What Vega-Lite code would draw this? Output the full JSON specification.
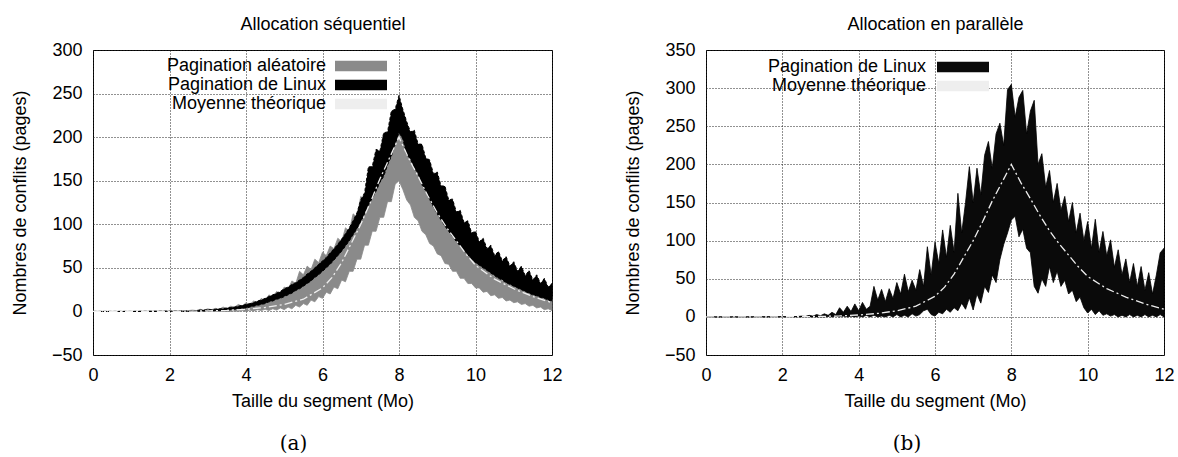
{
"$schema": "https://vega.github.io/schema/vega-lite/v6.json",
"background": "white",
"padding": {"left": 10, "top": 14, "right": 5, "bottom": 5},
"bounds": "flush",
"spacing": 154,
"resolve": {"scale": {"color": "independent"}, "legend": {"color": "independent"}},
"config": {
  "font": "Liberation Sans",
  "view": {"stroke": "#000", "strokeWidth": 1},
  "axis": {"labelFont": "Liberation Sans", "labelFontSize": 18, "labelColor": "#000", "titleFont": "Liberation Sans", "titleFontSize": 18, "titleFontWeight": "normal", "titleColor": "#000", "domain": false, "ticks": false, "tickSize": 0, "gridColor": "#222", "gridDash": [1, 2], "gridWidth": 1, "gridOpacity": 1, "labelOverlap": false, "labelFlush": false, "labelBound": false},
  "legend": {"labelFont": "Liberation Sans", "labelFontSize": 18, "labelColor": "#000", "labelLimit": 400},
  "title": {"font": "DejaVu Serif", "fontSize": 20, "fontWeight": "normal", "color": "#000"}
},
"datasets": {
  "seqA": [
    {"x":0,"lo":0,"hi":0},{"x":1,"lo":0,"hi":0},{"x":2,"lo":0,"hi":0.5},
    {"x":2.5,"lo":0,"hi":1},{"x":2.6,"lo":0,"hi":1.5},{"x":2.7,"lo":0,"hi":1},{"x":2.8,"lo":0,"hi":2.5},{"x":2.9,"lo":0,"hi":1.5},
    {"x":3.0,"lo":0,"hi":3},{"x":3.1,"lo":0,"hi":2},{"x":3.2,"lo":0,"hi":3.5},{"x":3.3,"lo":0,"hi":2.5},{"x":3.4,"lo":0,"hi":5},
    {"x":3.5,"lo":0,"hi":3.5},{"x":3.6,"lo":0,"hi":6},{"x":3.7,"lo":0.5,"hi":5},{"x":3.8,"lo":0,"hi":8},{"x":3.9,"lo":1,"hi":6},
    {"x":4.0,"lo":0,"hi":10},{"x":4.1,"lo":1.5,"hi":8},{"x":4.2,"lo":0.5,"hi":12},{"x":4.3,"lo":2,"hi":10},{"x":4.4,"lo":1,"hi":15},
    {"x":4.5,"lo":2.5,"hi":12},{"x":4.6,"lo":1,"hi":19},{"x":4.7,"lo":3,"hi":16},{"x":4.8,"lo":1.5,"hi":23},{"x":4.9,"lo":4,"hi":20},
    {"x":5.0,"lo":2,"hi":28},{"x":5.1,"lo":5,"hi":25},{"x":5.2,"lo":3,"hi":35},{"x":5.3,"lo":7,"hi":32},{"x":5.4,"lo":5,"hi":46},
    {"x":5.5,"lo":9,"hi":42},{"x":5.6,"lo":7,"hi":52},{"x":5.7,"lo":13,"hi":48},{"x":5.8,"lo":11,"hi":60},{"x":5.9,"lo":17,"hi":56},
    {"x":6.0,"lo":15,"hi":68},{"x":6.1,"lo":22,"hi":64},{"x":6.2,"lo":20,"hi":75},{"x":6.3,"lo":28,"hi":72},{"x":6.4,"lo":26,"hi":84},
    {"x":6.5,"lo":36,"hi":80},{"x":6.6,"lo":34,"hi":96},{"x":6.7,"lo":46,"hi":92},{"x":6.8,"lo":46,"hi":112},{"x":6.9,"lo":60,"hi":108},
    {"x":7.0,"lo":60,"hi":132},{"x":7.1,"lo":76,"hi":128},{"x":7.2,"lo":76,"hi":146},{"x":7.3,"lo":92,"hi":142},{"x":7.4,"lo":92,"hi":162},
    {"x":7.5,"lo":108,"hi":158},{"x":7.6,"lo":108,"hi":180},{"x":7.7,"lo":126,"hi":176},{"x":7.8,"lo":126,"hi":198},{"x":7.9,"lo":146,"hi":194},
    {"x":8.0,"lo":150,"hi":214},{"x":8.1,"lo":140,"hi":200},{"x":8.2,"lo":128,"hi":196},{"x":8.3,"lo":122,"hi":180},{"x":8.4,"lo":108,"hi":174},
    {"x":8.5,"lo":104,"hi":160},{"x":8.6,"lo":92,"hi":154},{"x":8.7,"lo":88,"hi":142},{"x":8.8,"lo":78,"hi":138},{"x":8.9,"lo":75,"hi":126},
    {"x":9.0,"lo":66,"hi":124},{"x":9.1,"lo":64,"hi":112},{"x":9.2,"lo":55,"hi":110},{"x":9.3,"lo":54,"hi":100},{"x":9.4,"lo":46,"hi":96},
    {"x":9.5,"lo":46,"hi":88},{"x":9.6,"lo":38,"hi":84},{"x":9.7,"lo":38,"hi":76},{"x":9.8,"lo":32,"hi":72},{"x":9.9,"lo":32,"hi":64},
    {"x":10.0,"lo":27,"hi":60},{"x":10.1,"lo":27,"hi":54},{"x":10.2,"lo":22,"hi":52},{"x":10.3,"lo":23,"hi":46},{"x":10.4,"lo":18,"hi":45},
    {"x":10.5,"lo":19,"hi":40},{"x":10.6,"lo":15,"hi":39},{"x":10.7,"lo":16,"hi":35},{"x":10.8,"lo":12,"hi":34},{"x":10.9,"lo":13,"hi":30},
    {"x":11.0,"lo":10,"hi":30},{"x":11.1,"lo":11,"hi":27},{"x":11.2,"lo":8,"hi":27},{"x":11.3,"lo":9,"hi":24},{"x":11.4,"lo":6,"hi":24},
    {"x":11.5,"lo":7,"hi":21},{"x":11.6,"lo":4,"hi":21},{"x":11.7,"lo":5,"hi":19},{"x":11.8,"lo":2,"hi":19},{"x":11.9,"lo":3,"hi":17},
    {"x":12.0,"lo":1,"hi":17}
  ],
  "seqL": [
    {"x":0,"lo":0,"hi":0},{"x":1,"lo":0,"hi":0},{"x":2,"lo":0,"hi":0.3},
    {"x":2.5,"lo":0,"hi":0.5},{"x":2.6,"lo":0,"hi":1},{"x":2.7,"lo":0.3,"hi":1},{"x":2.8,"lo":0.3,"hi":1.5},{"x":2.9,"lo":0.5,"hi":1.5},
    {"x":3.0,"lo":0.5,"hi":2},{"x":3.1,"lo":0.8,"hi":2},{"x":3.2,"lo":1,"hi":2.5},{"x":3.3,"lo":1,"hi":3},{"x":3.4,"lo":1.5,"hi":3},
    {"x":3.5,"lo":1.5,"hi":4},{"x":3.6,"lo":2,"hi":4.5},{"x":3.7,"lo":2.5,"hi":5},{"x":3.8,"lo":3,"hi":6},{"x":3.9,"lo":3.5,"hi":7},
    {"x":4.0,"lo":4,"hi":8},{"x":4.1,"lo":5,"hi":9},{"x":4.2,"lo":6,"hi":10},{"x":4.3,"lo":7,"hi":12},{"x":4.4,"lo":8,"hi":13},
    {"x":4.5,"lo":9,"hi":15},{"x":4.6,"lo":11,"hi":17},{"x":4.7,"lo":12,"hi":19},{"x":4.8,"lo":14,"hi":21},{"x":4.9,"lo":15,"hi":23},
    {"x":5.0,"lo":17,"hi":26},{"x":5.1,"lo":19,"hi":28},{"x":5.2,"lo":21,"hi":31},{"x":5.3,"lo":24,"hi":33},{"x":5.4,"lo":26,"hi":36},
    {"x":5.5,"lo":29,"hi":39},{"x":5.6,"lo":32,"hi":43},{"x":5.7,"lo":35,"hi":46},{"x":5.8,"lo":39,"hi":50},{"x":5.9,"lo":42,"hi":54},
    {"x":6.0,"lo":46,"hi":58},{"x":6.1,"lo":50,"hi":62},{"x":6.2,"lo":54,"hi":67},{"x":6.3,"lo":59,"hi":72},{"x":6.4,"lo":64,"hi":77},
    {"x":6.5,"lo":69,"hi":83},{"x":6.6,"lo":75,"hi":89},{"x":6.7,"lo":81,"hi":96},{"x":6.8,"lo":88,"hi":104},{"x":6.9,"lo":95,"hi":113},
    {"x":7.0,"lo":103,"hi":128},{"x":7.1,"lo":112,"hi":136},{"x":7.2,"lo":122,"hi":166},{"x":7.3,"lo":130,"hi":166},{"x":7.4,"lo":138,"hi":186},
    {"x":7.5,"lo":148,"hi":184},{"x":7.6,"lo":155,"hi":205},{"x":7.7,"lo":168,"hi":206},{"x":7.8,"lo":178,"hi":230},{"x":7.9,"lo":192,"hi":232},
    {"x":8.0,"lo":205,"hi":248},{"x":8.1,"lo":198,"hi":232},{"x":8.2,"lo":180,"hi":218},{"x":8.3,"lo":175,"hi":206},{"x":8.4,"lo":165,"hi":208},
    {"x":8.5,"lo":158,"hi":192},{"x":8.6,"lo":145,"hi":192},{"x":8.7,"lo":138,"hi":176},{"x":8.8,"lo":128,"hi":174},{"x":8.9,"lo":120,"hi":158},
    {"x":9.0,"lo":112,"hi":160},{"x":9.1,"lo":105,"hi":144},{"x":9.2,"lo":98,"hi":144},{"x":9.3,"lo":92,"hi":128},{"x":9.4,"lo":86,"hi":129},
    {"x":9.5,"lo":80,"hi":114},{"x":9.6,"lo":75,"hi":116},{"x":9.7,"lo":70,"hi":102},{"x":9.8,"lo":65,"hi":104},{"x":9.9,"lo":60,"hi":90},
    {"x":10.0,"lo":56,"hi":92},{"x":10.1,"lo":53,"hi":80},{"x":10.2,"lo":50,"hi":84},{"x":10.3,"lo":47,"hi":72},{"x":10.4,"lo":44,"hi":76},
    {"x":10.5,"lo":41,"hi":64},{"x":10.6,"lo":38,"hi":69},{"x":10.7,"lo":36,"hi":58},{"x":10.8,"lo":33,"hi":63},{"x":10.9,"lo":31,"hi":52},
    {"x":11.0,"lo":29,"hi":57},{"x":11.1,"lo":27,"hi":46},{"x":11.2,"lo":25,"hi":52},{"x":11.3,"lo":23,"hi":41},{"x":11.4,"lo":21,"hi":47},
    {"x":11.5,"lo":19,"hi":36},{"x":11.6,"lo":18,"hi":42},{"x":11.7,"lo":16,"hi":32},{"x":11.8,"lo":15,"hi":38},{"x":11.9,"lo":13,"hi":28},
    {"x":12.0,"lo":12,"hi":32}
  ],
  "par": [
    {"x":0,"lo":0,"hi":0},{"x":1,"lo":0,"hi":0},{"x":2,"lo":0,"hi":0.3},{"x":2.4,"lo":0,"hi":0.5},
    {"x":2.5,"lo":0,"hi":1},{"x":2.6,"lo":0,"hi":0.5},{"x":2.7,"lo":0,"hi":2},{"x":2.8,"lo":0,"hi":1},{"x":2.9,"lo":0,"hi":3},
    {"x":3.0,"lo":0,"hi":1.5},{"x":3.1,"lo":0,"hi":4},{"x":3.2,"lo":0.5,"hi":2},{"x":3.3,"lo":0,"hi":6},{"x":3.4,"lo":1,"hi":3},
    {"x":3.5,"lo":0,"hi":12},{"x":3.6,"lo":1,"hi":6},{"x":3.7,"lo":0,"hi":14},{"x":3.8,"lo":1,"hi":7},{"x":3.9,"lo":0,"hi":17},
    {"x":4.0,"lo":1,"hi":8},{"x":4.1,"lo":0,"hi":19},{"x":4.2,"lo":2,"hi":10},{"x":4.3,"lo":0,"hi":14},{"x":4.4,"lo":2,"hi":40},
    {"x":4.5,"lo":0,"hi":22},{"x":4.6,"lo":1,"hi":36},{"x":4.7,"lo":0,"hi":20},{"x":4.8,"lo":2,"hi":37},{"x":4.9,"lo":0,"hi":24},
    {"x":5.0,"lo":3,"hi":45},{"x":5.1,"lo":0,"hi":30},{"x":5.2,"lo":2,"hi":56},{"x":5.3,"lo":0,"hi":33},{"x":5.4,"lo":4,"hi":48},
    {"x":5.5,"lo":1,"hi":35},{"x":5.6,"lo":3,"hi":62},{"x":5.7,"lo":8,"hi":40},{"x":5.8,"lo":10,"hi":92},{"x":5.9,"lo":3,"hi":55},
    {"x":6.0,"lo":1,"hi":98},{"x":6.1,"lo":6,"hi":70},{"x":6.2,"lo":4,"hi":114},{"x":6.3,"lo":10,"hi":78},{"x":6.4,"lo":6,"hi":120},
    {"x":6.5,"lo":12,"hi":85},{"x":6.6,"lo":8,"hi":162},{"x":6.7,"lo":18,"hi":110},{"x":6.8,"lo":10,"hi":150},{"x":6.9,"lo":25,"hi":197},
    {"x":7.0,"lo":9,"hi":150},{"x":7.1,"lo":30,"hi":195},{"x":7.2,"lo":18,"hi":160},{"x":7.3,"lo":40,"hi":212},{"x":7.4,"lo":32,"hi":230},
    {"x":7.5,"lo":55,"hi":195},{"x":7.6,"lo":45,"hi":240},{"x":7.7,"lo":75,"hi":254},{"x":7.8,"lo":95,"hi":225},{"x":7.9,"lo":110,"hi":298},
    {"x":8.0,"lo":127,"hi":305},{"x":8.1,"lo":132,"hi":262},{"x":8.2,"lo":105,"hi":288},{"x":8.3,"lo":115,"hi":297},{"x":8.4,"lo":90,"hi":240},
    {"x":8.5,"lo":84,"hi":270},{"x":8.6,"lo":40,"hi":284},{"x":8.7,"lo":31,"hi":200},{"x":8.8,"lo":50,"hi":214},{"x":8.9,"lo":40,"hi":170},
    {"x":9.0,"lo":66,"hi":192},{"x":9.1,"lo":45,"hi":150},{"x":9.2,"lo":60,"hi":175},{"x":9.3,"lo":40,"hi":140},{"x":9.4,"lo":48,"hi":158},
    {"x":9.5,"lo":30,"hi":125},{"x":9.6,"lo":35,"hi":150},{"x":9.7,"lo":20,"hi":110},{"x":9.8,"lo":26,"hi":136},{"x":9.9,"lo":12,"hi":100},
    {"x":10.0,"lo":5,"hi":125},{"x":10.1,"lo":10,"hi":90},{"x":10.2,"lo":3,"hi":128},{"x":10.3,"lo":8,"hi":85},{"x":10.4,"lo":2,"hi":112},
    {"x":10.5,"lo":4,"hi":80},{"x":10.6,"lo":1,"hi":101},{"x":10.7,"lo":3,"hi":65},{"x":10.8,"lo":0,"hi":88},{"x":10.9,"lo":2,"hi":55},
    {"x":11.0,"lo":0,"hi":76},{"x":11.1,"lo":3,"hi":45},{"x":11.2,"lo":0,"hi":70},{"x":11.3,"lo":2,"hi":40},{"x":11.4,"lo":0,"hi":66},
    {"x":11.5,"lo":3,"hi":35},{"x":11.6,"lo":0,"hi":58},{"x":11.7,"lo":2,"hi":30},{"x":11.8,"lo":0,"hi":55},{"x":11.9,"lo":3,"hi":84},
    {"x":12.0,"lo":0,"hi":90}
  ],
  "theo": [
    {"x":0,"y":0},{"x":1,"y":0},{"x":2,"y":0.1},{"x":2.5,"y":0.3},{"x":3,"y":0.6},{"x":3.5,"y":1.2},{"x":4,"y":2.5},{"x":4.5,"y":4.5},
    {"x":5,"y":8},{"x":5.5,"y":14},{"x":6,"y":27},{"x":6.25,"y":39},{"x":6.5,"y":56},{"x":6.75,"y":78},{"x":7,"y":100},{"x":7.25,"y":125},
    {"x":7.5,"y":152},{"x":7.75,"y":176},{"x":8,"y":200},{"x":8.25,"y":176},{"x":8.5,"y":155},{"x":8.75,"y":133},{"x":9,"y":113},
    {"x":9.25,"y":96},{"x":9.5,"y":81},{"x":9.75,"y":66},{"x":10,"y":53},{"x":10.5,"y":37},{"x":11,"y":26},{"x":11.5,"y":17},{"x":12,"y":10}
  ]
},
"hconcat": [
  {
    "width": 459, "height": 305,
    "title": {"text": "(a)", "orient": "bottom", "frame": "group", "anchor": "middle", "dx": -29, "offset": 24},
    "resolve": {"axis": {"x": "independent"}},
    "layer": [
      {
        "data": {"name": "seqA"},
        "mark": {"type": "area", "stroke": "#8a8a8a", "strokeWidth": 0.8},
        "encoding": {
          "x": {"field": "x", "type": "quantitative", "scale": {"domain": [0, 12], "nice": false},
                "axis": {"orient": "bottom", "values": [0, 2, 4, 6, 8, 10, 12], "format": "d", "title": "Taille du segment (Mo)", "labelPadding": 11, "titlePadding": 8, "labelOverlap": false}},
          "y": {"field": "lo", "type": "quantitative", "scale": {"domain": [-50, 300], "nice": false},
                "axis": {"values": [-50, 0, 50, 100, 150, 200, 250, 300], "tickCount": 20, "format": "d", "title": "Nombres de conflits (pages)", "labelPadding": 11, "titlePadding": 22, "labelOverlap": false}},
          "y2": {"field": "hi"},
          "color": {"datum": "Pagination aléatoire", "type": "nominal",
            "scale": {"domain": ["Pagination aléatoire", "Pagination de Linux", "Moyenne théorique"], "range": ["#8a8a8a", "#000000", "#eeeeee"]},
            "legend": {"orient": "none", "legendX": 259, "legendY": 7, "title": null, "padding": 0, "labelAlign": "right", "labelOffset": -44, "symbolSize": 169, "rowPadding": 1, "symbolType": "M-4,-0.8H4V0.8H-4Z", "symbolStrokeWidth": 0, "symbolOpacity": 1}
          }
        }
      },
      {
        "data": {"name": "seqL"},
        "mark": {"type": "area", "stroke": "#000", "strokeWidth": 1, "strokeDash": [3, 2]},
        "encoding": {
          "x": {"field": "x", "type": "quantitative", "axis": null},
          "y": {"field": "lo", "type": "quantitative"},
          "y2": {"field": "hi"},
          "color": {"datum": "Pagination de Linux", "type": "nominal"}
        }
      },
      {
        "data": {"name": "theo"},
        "mark": {"type": "line", "strokeWidth": 1.3, "strokeDash": [8, 3, 2, 3]},
        "encoding": {
          "x": {"field": "x", "type": "quantitative", "axis": {"orient": "top", "title": "Allocation séquentiel", "labels": false, "grid": false, "titlePadding": 17}},
          "y": {"field": "y", "type": "quantitative"},
          "color": {"datum": "Moyenne théorique", "type": "nominal"}
        }
      }
    ]
  },
  {
    "width": 458, "height": 305,
    "title": {"text": "(b)", "orient": "bottom", "frame": "group", "anchor": "middle", "dx": -28, "offset": 24},
    "resolve": {"axis": {"x": "independent"}},
    "layer": [
      {
        "data": {"name": "par"},
        "mark": {"type": "area", "stroke": "#000", "strokeWidth": 0.8},
        "encoding": {
          "x": {"field": "x", "type": "quantitative", "scale": {"domain": [0, 12], "nice": false},
                "axis": {"orient": "bottom", "values": [0, 2, 4, 6, 8, 10, 12], "format": "d", "title": "Taille du segment (Mo)", "labelPadding": 11, "titlePadding": 8, "labelOverlap": false}},
          "y": {"field": "lo", "type": "quantitative", "scale": {"domain": [-50, 350], "nice": false},
                "axis": {"values": [-50, 0, 50, 100, 150, 200, 250, 300, 350], "tickCount": 20, "format": "d", "title": "Nombres de conflits (pages)", "labelPadding": 11, "titlePadding": 22, "labelOverlap": false}},
          "y2": {"field": "hi"},
          "color": {"datum": "Pagination de Linux", "type": "nominal",
            "scale": {"domain": ["Pagination de Linux", "Moyenne théorique"], "range": ["#0a0a0a", "#eeeeee"]},
            "legend": {"orient": "none", "legendX": 248, "legendY": 8, "title": null, "padding": 0, "labelAlign": "right", "labelOffset": -46, "symbolSize": 169, "rowPadding": 1, "symbolType": "M-4,-0.8H4V0.8H-4Z", "symbolStrokeWidth": 0, "symbolOpacity": 1}
          }
        }
      },
      {
        "data": {"name": "theo"},
        "mark": {"type": "line", "strokeWidth": 1.3, "strokeDash": [8, 3, 2, 3]},
        "encoding": {
          "x": {"field": "x", "type": "quantitative", "axis": {"orient": "top", "title": "Allocation en parallèle", "labels": false, "grid": false, "titlePadding": 17}},
          "y": {"field": "y", "type": "quantitative"},
          "color": {"datum": "Moyenne théorique", "type": "nominal"}
        }
      }
    ]
  }
]
}
